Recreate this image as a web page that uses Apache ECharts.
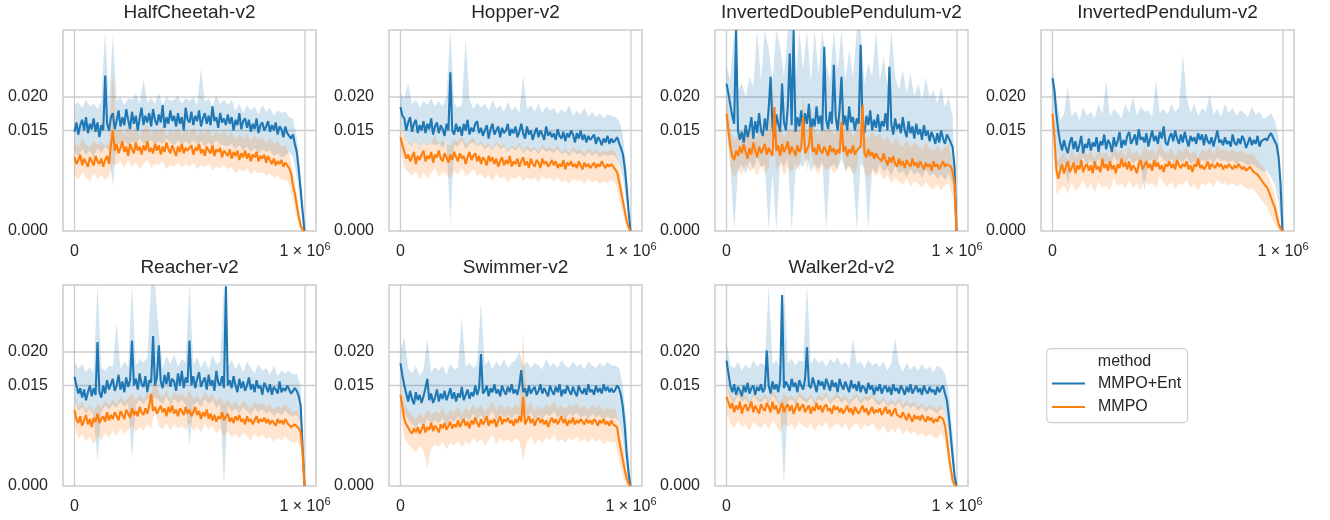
<!DOCTYPE html>
<html><head><meta charset="utf-8">
<script src="https://cdn.jsdelivr.net/npm/echarts@6/dist/echarts.min.js"></script>
<style>html,body{margin:0;padding:0;background:#fff}#c{width:1330px;height:520px}</style>
</head><body><div id="c"></div>
<script>
// ---------- data (values in units of 1e-4) ----------
const UNIT = 1e-4;
// timesteps of the mean lines
const LINE_STEPS = [0,8315,16630,24945,33260,41575,49890,58205,66520,74835,
83150,91465,99780,108095,116410,124725,133040,141355,149670,157985,
166300,174615,182930,191245,199560,207875,216190,224505,232820,241135,
249450,257765,266080,274395,282710,291025,299340,307655,315970,324285,
332600,340915,349230,357545,365860,374175,382490,390805,399120,407435,
415750,424065,432380,440695,449010,457325,465640,473955,482270,490585,
498900,507215,515530,523845,532160,540475,548790,557105,565420,573735,
582050,590365,598680,606995,615310,623625,631940,640255,648570,656885,
665200,673515,681830,690145,698460,706775,715090,723405,731720,740035,
748350,756665,764980,773295,781610,789925,798240,806555,814870,823185,
831500,839815,848130,856445,864760,873075,881390,889705,898020,906335,
914650,922965,931280,939595,947910,956225,964540,972855,981170,989485,
997800];
// timesteps of the confidence bands
const BAND_STEPS = [0,16630,33260,49890,66520,83150,99780,116410,133040,149670,
166300,182930,199560,216190,232820,249450,266080,282710,299340,315970,
332600,349230,365860,382490,399120,415750,432380,449010,465640,482270,
498900,515530,532160,548790,565420,582050,598680,615310,631940,648570,
665200,681830,698460,715090,731720,748350,764980,781610,798240,814870,
831500,848130,864760,881390,898020,914650,931280,947910,964540,981170,
997800];
const METHODS = ['MMPO+Ent', 'MMPO'];
const ENV_NAMES = ['HalfCheetah-v2','Hopper-v2','InvertedDoublePendulum-v2','InvertedPendulum-v2','Reacher-v2','Swimmer-v2','Walker2d-v2'];
const Y_TICKS = [0, 0.015, 0.02];
const X_TICKS = [0, 1000000];

// HalfCheetah
const HC_ENT = [148,162,144,158,166,150,170,146,160,152,168,148,162,140,158,150,232,160,150,170,176,152,164,180,156,170,158,182,166,152,178,160,172,150,168,184,158,172,162,176,156,182,166,158,174,162,188,154,170,160,180,164,172,156,176,160,170,150,184,166,162,178,158,172,164,180,156,168,176,160,172,158,186,164,170,154,176,162,168,158,174,160,170,150,166,158,176,152,164,168,154,166,148,160,152,168,146,158,162,150,156,164,148,158,150,162,144,156,152,140,156,146,148,138,144,130,118,92,62,30,0];
const HC_BASE = [110,100,106,114,98,108,102,96,110,104,98,112,104,100,108,96,106,112,100,128,150,120,130,116,124,134,118,126,112,130,122,116,132,120,126,114,128,120,134,118,124,116,130,120,128,114,126,118,132,122,116,128,120,112,126,118,130,116,124,120,118,128,114,124,120,130,116,122,112,126,120,116,128,112,122,118,124,110,120,116,112,122,108,118,112,120,106,116,110,120,108,116,104,114,110,118,104,112,108,114,102,112,106,100,108,98,104,100,106,96,102,98,94,86,68,56,38,22,8,2,0];
const HC_ENT_HI = [188,192,184,196,186,190,182,194,300,190,293,194,200,188,198,196,204,190,226,192,198,190,206,188,200,194,196,202,190,198,194,200,188,243,192,198,186,202,190,196,188,196,180,190,176,188,180,186,174,188,178,184,172,180,176,178,170,168,140,80,0];
const HC_ENT_LO = [118,112,122,114,120,110,124,116,126,120,66,132,128,136,126,134,128,138,130,132,136,128,134,130,138,132,128,136,130,134,128,136,130,134,126,132,128,136,130,128,126,130,122,128,120,126,118,124,116,122,118,120,112,116,110,112,118,110,80,40,0];
const HC_BASE_HI = [132,126,138,130,124,136,128,134,126,132,240,150,152,144,158,146,154,142,152,158,144,152,148,156,142,150,146,154,144,152,146,154,142,150,146,152,140,148,144,150,142,148,136,144,138,146,134,142,136,140,132,138,130,134,126,128,115,90,55,15,0];
const HC_BASE_LO = [84,76,88,80,74,86,78,84,76,82,100,98,104,94,106,96,102,92,100,106,94,100,98,104,92,98,96,102,94,100,96,102,92,98,96,100,90,96,94,98,92,96,86,92,88,94,84,90,86,88,82,86,80,82,76,76,70,45,20,0,0];

// Hopper
const HOP_ENT = [185,172,168,150,162,170,148,160,166,146,158,150,164,146,160,152,168,144,156,162,146,158,152,142,160,150,237,150,144,160,148,156,142,160,150,166,144,154,148,160,164,146,154,142,150,158,138,152,160,144,150,156,140,154,146,150,160,142,152,146,156,140,148,160,146,138,156,144,150,136,146,154,140,150,144,136,156,142,148,140,146,136,152,142,138,148,134,146,140,150,144,132,146,138,150,136,144,132,142,136,134,144,130,140,136,128,138,132,142,130,138,132,135,140,132,124,115,95,65,30,0];
const HOP_BASE = [140,128,118,108,114,104,110,118,100,112,106,114,120,104,112,108,118,102,114,110,120,108,104,116,110,102,114,106,118,110,104,116,108,112,100,110,118,106,112,116,104,112,100,110,106,98,112,104,110,100,108,96,104,110,98,106,100,112,96,104,100,108,96,104,110,98,104,94,108,100,96,106,102,94,108,100,104,96,100,106,98,104,94,100,96,106,92,102,98,104,96,100,94,104,98,92,102,96,100,94,98,102,94,100,96,104,98,94,100,96,100,96,95,88,75,60,45,30,15,6,0];
const HOP_ENT_HI = [205,198,220,190,196,184,194,188,198,186,194,186,200,300,190,184,188,287,196,182,192,184,190,180,196,182,188,178,192,180,186,176,232,182,188,178,190,176,186,180,184,174,182,176,188,172,180,174,184,170,178,170,176,168,174,172,170,165,145,90,0];
const HOP_ENT_LO = [160,140,132,126,136,122,134,126,132,128,130,124,134,10,128,126,136,122,130,132,126,130,122,128,120,130,122,126,118,124,120,126,116,122,118,122,114,124,118,120,116,122,114,118,112,120,114,116,110,118,112,116,110,114,112,114,112,100,80,40,0];
const HOP_BASE_HI = [160,140,134,128,138,122,136,126,134,142,128,136,130,126,138,132,142,130,134,140,128,134,126,132,122,134,126,130,120,128,124,132,120,128,122,126,118,130,122,126,120,128,118,124,116,126,120,122,116,124,118,122,116,120,118,122,118,95,62,25,0];
const HOP_BASE_LO = [118,94,88,82,90,76,88,78,86,94,80,88,84,78,90,84,94,82,86,92,82,86,78,84,74,86,78,82,72,80,78,84,74,80,76,80,72,82,76,80,74,80,72,76,70,78,74,76,70,78,72,76,70,74,72,76,72,50,25,5,0];

// InvertedDoublePendulum
const IDP_ENT = [220,205,188,172,160,300,150,136,148,132,158,140,152,170,138,164,146,176,150,142,168,150,182,230,156,140,174,160,148,220,162,150,186,265,158,300,148,170,156,180,150,176,160,190,148,168,156,186,160,172,150,275,166,152,178,160,248,170,150,182,230,158,172,150,186,162,170,150,168,160,278,156,146,172,158,180,150,166,154,174,148,164,156,176,150,245,160,144,168,152,160,146,170,150,140,164,146,156,138,160,144,152,136,158,142,150,134,148,140,130,146,132,150,138,130,144,142,132,125,95,0];
const IDP_BASE = [175,150,126,112,106,120,112,126,116,130,118,108,124,114,132,120,110,126,116,122,130,114,124,118,112,185,120,128,112,130,118,124,134,114,126,120,112,128,118,124,170,116,122,128,155,118,124,114,130,120,116,126,120,112,128,118,124,114,122,116,163,118,126,112,122,116,128,114,120,118,126,188,116,110,122,112,118,108,116,110,112,104,116,106,98,110,102,112,100,96,108,98,104,94,106,100,96,108,98,102,94,104,98,92,102,96,100,90,104,96,100,92,98,104,96,100,102,96,88,70,0];
const IDP_ENT_HI = [245,225,300,210,220,200,230,215,300,225,300,270,225,300,275,230,300,300,220,300,240,300,220,300,235,300,250,225,300,240,300,225,270,230,300,300,220,250,230,300,225,260,215,300,230,210,240,205,235,200,220,195,230,200,210,190,215,185,200,170,0];
const IDP_ENT_LO = [170,100,0,90,100,85,105,92,110,95,100,0,88,0,105,95,110,0,90,100,95,110,88,100,92,105,0,96,100,92,108,90,98,88,0,102,92,0,94,86,100,88,94,82,98,86,90,80,92,84,88,80,92,82,86,78,84,76,86,70,0];
const IDP_BASE_HI = [200,150,135,145,140,160,145,150,138,156,144,152,215,148,158,140,154,146,160,150,200,146,185,152,142,158,148,154,144,150,195,146,154,142,150,220,144,138,148,140,146,134,142,128,138,132,126,136,124,132,128,122,132,124,120,128,118,126,130,100,0];
const IDP_BASE_LO = [150,96,80,90,84,100,88,94,82,98,86,94,150,90,100,82,96,88,102,90,140,88,125,94,84,100,90,96,86,92,133,88,96,84,92,155,86,80,90,82,88,76,84,70,80,74,68,78,66,74,70,64,74,66,62,70,60,68,72,50,0];

// InvertedPendulum
const IP_ENT = [228,210,175,150,132,120,136,124,116,132,140,122,134,118,128,142,116,130,124,138,120,132,126,140,118,134,128,144,122,136,130,118,140,126,134,148,124,136,128,142,148,130,136,144,128,152,136,140,132,146,126,138,150,134,142,130,148,138,156,132,128,140,146,134,150,138,130,144,132,148,136,126,142,134,140,130,146,136,144,128,144,134,130,140,126,138,150,132,136,128,140,130,134,126,144,132,128,138,130,142,136,124,132,140,128,136,130,142,126,134,132,138,135,142,146,140,138,128,110,70,0];
const IP_BASE = [175,140,92,78,90,100,86,96,104,88,94,102,86,98,92,106,88,96,100,90,98,86,104,92,96,88,108,94,100,90,104,92,98,86,100,94,108,96,102,92,104,90,98,94,86,100,106,92,98,104,94,100,90,106,96,102,92,98,88,100,96,104,94,100,92,106,98,94,100,96,104,92,98,88,100,96,108,94,98,92,96,104,92,100,98,94,102,96,100,92,98,94,100,96,92,98,94,100,96,92,96,90,92,96,94,88,88,84,80,76,72,68,65,58,50,42,35,22,10,4,0];
const IP_ENT_HI = [245,200,165,175,215,170,180,165,185,172,178,168,190,174,225,170,182,176,168,190,176,200,172,186,178,180,170,225,176,182,174,190,178,184,265,200,176,190,172,184,178,205,174,182,170,190,176,184,172,180,176,170,186,174,178,168,170,176,165,140,0];
const IP_ENT_LO = [200,100,90,104,70,106,96,102,110,98,106,94,108,100,104,96,112,102,108,98,110,100,106,96,60,104,108,100,114,106,102,108,98,106,102,110,100,104,96,106,104,108,100,110,104,106,102,106,100,104,102,98,100,96,92,88,90,80,70,40,0];
const IP_BASE_HI = [195,102,110,118,106,122,110,116,126,112,120,108,124,114,118,110,130,116,122,112,126,114,120,110,128,118,122,114,132,120,116,124,112,122,118,126,114,120,110,122,118,124,116,126,120,122,118,122,116,120,118,114,116,110,102,94,86,72,55,25,0];
const IP_BASE_LO = [155,55,62,68,56,72,60,66,76,62,70,58,74,64,68,60,80,66,72,62,76,64,70,60,78,68,72,64,82,70,66,74,62,72,68,76,64,70,60,72,68,74,66,76,70,72,68,72,66,70,66,62,64,58,50,42,36,22,10,0,0];

// Reacher
const RE_ENT = [163,150,138,146,132,144,128,140,150,134,146,136,215,140,132,150,138,158,144,152,160,142,150,166,144,156,140,162,148,158,217,150,160,144,168,152,148,164,140,158,154,224,150,162,210,156,146,166,152,170,148,160,156,142,168,150,172,146,162,154,217,150,164,146,160,170,148,156,162,144,166,150,158,142,172,154,150,164,146,298,150,158,146,164,150,140,160,146,156,142,150,162,144,152,140,158,146,150,136,154,148,140,152,136,148,144,138,156,140,146,142,150,148,138,136,146,142,134,120,60,0];
const RE_BASE = [113,100,94,104,90,98,106,92,100,88,102,96,108,94,100,104,96,110,98,106,100,110,104,98,112,106,100,114,108,102,116,106,112,104,118,110,106,116,108,120,138,112,118,108,114,120,110,116,104,118,110,120,108,114,104,116,112,106,118,108,114,104,110,118,106,112,100,110,104,114,100,108,98,106,96,104,100,110,98,104,108,96,102,94,104,98,106,96,100,92,104,96,100,92,98,104,94,100,96,102,94,100,92,98,96,90,100,94,98,92,100,94,94,88,88,92,92,86,80,50,0];
const RE_ENT_HI = [185,175,182,170,178,168,300,176,172,180,178,244,174,186,178,300,180,190,184,192,300,300,230,176,194,182,196,178,190,184,300,180,192,176,188,174,196,182,186,300,178,188,174,184,170,186,176,168,182,172,176,166,180,164,172,168,172,166,168,150,0];
const RE_ENT_LO = [130,112,118,108,116,104,37,110,120,114,122,116,126,118,124,40,120,128,122,130,126,132,128,122,134,120,130,124,128,122,60,120,126,118,130,122,128,116,124,0,120,110,116,108,118,112,106,116,110,114,108,112,104,110,106,112,106,104,106,95,0];
const RE_BASE_HI = [135,118,126,114,122,110,124,116,128,120,130,122,134,126,132,138,128,136,130,140,134,165,138,132,142,130,140,134,138,132,142,130,136,128,140,132,138,126,134,122,130,120,126,118,128,122,116,126,120,124,118,122,114,120,116,122,116,110,114,100,0];
const RE_BASE_LO = [90,70,78,66,74,62,76,68,80,72,82,74,86,78,84,90,80,88,82,92,86,112,90,84,94,82,92,86,90,84,94,82,88,80,92,84,90,78,86,74,82,72,78,70,80,74,68,78,72,76,70,74,66,72,68,74,68,64,66,58,0];

// Swimmer
const SW_ENT = [183,165,150,138,126,142,130,122,140,128,136,124,134,146,160,128,138,124,132,144,126,138,130,142,128,136,146,130,140,126,138,132,148,128,136,144,130,140,134,150,136,146,197,138,142,150,134,146,140,152,138,144,134,150,142,136,148,140,152,138,144,136,150,173,140,146,134,150,138,144,148,136,142,152,138,146,140,134,150,142,136,148,140,152,134,144,138,150,142,136,148,140,134,150,142,138,146,136,152,140,144,136,150,140,146,138,152,142,148,140,146,140,143,150,146,136,118,90,49,20,0];
const SW_BASE = [136,118,100,92,90,82,78,86,80,88,78,84,92,80,88,84,94,82,90,86,80,92,86,94,84,90,96,86,92,88,98,88,94,100,90,96,86,98,92,102,94,88,100,92,96,104,90,98,94,100,88,98,104,92,100,96,102,94,98,90,100,94,104,96,133,92,98,104,94,100,90,98,102,94,100,92,98,88,96,102,94,100,92,98,104,94,100,90,98,94,102,92,98,94,100,96,92,100,94,98,92,100,96,90,98,94,100,92,96,90,98,92,94,88,69,54,39,24,12,4,0];
const SW_ENT_HI = [205,222,176,168,180,164,174,220,170,178,172,180,166,182,174,176,252,178,184,176,182,274,180,188,174,186,178,190,176,184,188,200,178,186,176,184,180,174,190,178,184,176,188,180,176,186,178,182,174,186,180,176,184,178,186,180,180,176,150,90,0];
const SW_ENT_LO = [160,110,98,92,86,96,88,100,92,98,94,102,90,100,96,104,94,102,98,108,100,106,96,104,112,98,108,102,106,100,108,104,110,102,110,98,106,100,108,104,112,102,106,100,108,104,110,102,106,100,108,102,106,98,104,100,102,96,70,30,0];
const SW_BASE_HI = [160,122,112,106,100,110,102,114,106,112,108,116,104,114,110,118,108,116,112,122,114,120,110,118,126,112,122,116,120,114,122,118,230,116,124,112,120,114,122,118,126,116,120,114,122,118,124,116,120,114,122,116,120,112,118,114,116,92,60,25,0];
const SW_BASE_LO = [110,72,62,56,50,60,52,25,56,62,58,66,54,64,60,68,58,66,62,72,64,70,60,68,76,62,72,66,70,64,72,68,37,66,74,62,70,64,72,68,76,66,70,64,72,68,74,66,70,64,72,66,70,62,68,64,66,40,15,0,0];

// Walker2d
const WK_ENT = [187,168,150,140,152,136,148,142,134,150,140,154,138,146,150,136,148,142,152,140,146,202,150,138,156,144,152,140,158,285,146,156,150,142,160,148,154,140,158,150,144,160,207,150,146,162,152,140,158,150,156,144,160,152,142,158,148,154,140,160,150,144,156,148,140,158,146,152,142,156,140,150,146,138,154,144,150,136,148,142,152,138,146,150,140,148,136,152,142,146,138,150,144,136,148,140,152,138,144,150,140,146,136,150,142,138,148,140,144,136,148,140,146,150,138,128,104,75,44,15,0];
const WK_BASE = [133,125,116,124,110,120,114,126,108,118,122,112,118,126,110,120,114,108,122,116,112,124,118,110,126,114,120,108,116,124,110,118,122,112,120,108,116,124,112,118,122,110,116,120,108,118,112,124,114,120,110,118,122,112,116,108,120,114,118,110,116,108,114,120,110,116,106,118,112,108,114,120,110,116,106,112,118,108,114,110,116,106,112,118,108,114,104,110,116,106,108,102,110,104,98,108,102,96,106,100,104,98,106,100,96,104,98,102,94,100,96,104,106,100,90,70,46,26,8,2,0];
const WK_ENT_HI = [215,180,176,186,172,182,174,188,178,184,180,300,182,188,176,300,184,190,180,188,186,300,182,192,184,188,178,190,184,192,180,186,176,220,182,186,176,188,180,184,178,186,172,184,220,182,170,184,174,180,172,182,174,178,170,180,176,168,140,80,0];
const WK_ENT_LO = [150,130,124,136,126,130,120,134,128,124,132,122,136,128,118,0,126,130,122,134,128,124,132,120,130,126,134,122,128,132,124,130,120,128,132,122,130,126,132,124,120,128,116,124,118,126,114,122,116,120,112,118,110,116,112,108,116,110,70,30,0];
const WK_BASE_HI = [150,138,130,142,132,136,126,140,134,130,138,128,142,134,124,138,132,136,128,140,134,130,138,126,136,132,140,128,134,138,130,136,126,134,138,128,136,132,138,130,126,134,122,130,124,132,120,128,122,126,118,124,116,122,118,114,122,108,64,20,0];
const WK_BASE_LO = [110,94,86,98,88,92,82,96,90,86,94,84,98,90,80,94,88,92,84,96,90,86,94,82,92,88,96,84,90,94,86,92,82,90,94,84,92,88,94,86,82,90,78,86,80,88,76,84,78,82,74,80,72,78,74,70,80,66,30,0,0];

const PANELS = [
  {ent: [HC_ENT, HC_ENT_LO, HC_ENT_HI], base: [HC_BASE, HC_BASE_LO, HC_BASE_HI]},
  {ent: [HOP_ENT, HOP_ENT_LO, HOP_ENT_HI], base: [HOP_BASE, HOP_BASE_LO, HOP_BASE_HI]},
  {ent: [IDP_ENT, IDP_ENT_LO, IDP_ENT_HI], base: [IDP_BASE, IDP_BASE_LO, IDP_BASE_HI]},
  {ent: [IP_ENT, IP_ENT_LO, IP_ENT_HI], base: [IP_BASE, IP_BASE_LO, IP_BASE_HI]},
  {ent: [RE_ENT, RE_ENT_LO, RE_ENT_HI], base: [RE_BASE, RE_BASE_LO, RE_BASE_HI]},
  {ent: [SW_ENT, SW_ENT_LO, SW_ENT_HI], base: [SW_BASE, SW_BASE_LO, SW_BASE_HI]},
  {ent: [WK_ENT, WK_ENT_LO, WK_ENT_HI], base: [WK_BASE, WK_BASE_LO, WK_BASE_HI]}
];

// ---------- layout / style ----------
const COLORS = ['#1f77b4', '#ff7f0e'];
const BAND_FILLS = ['rgba(31,119,180,0.2)', 'rgba(255,127,14,0.2)'];
const FONT = "'Liberation Sans', Arial, sans-serif";
const TXT = '#262626';
const GRIDC = '#cccccc';
const LEFTS = [63, 389, 715, 1041];
const TOPS = [30, 285];
const W = 253, H = 201;
const XMIN = -49900, XMAX = 1047800, YMIN = 0, YMAX = 0.03;

const pts = arr => LINE_STEPS.map((x, i) => [x, arr[i] * UNIT]);

function bandSeries(k, lo, hi, fill) {
  const data = BAND_STEPS.map((x, i) => [x, lo[i] * UNIT, hi[i] * UNIT]);
  return {
    type: 'custom', xAxisIndex: k, yAxisIndex: k, silent: true, z: 2, clip: true,
    data: data, encode: {x: 0, y: [1, 2]},
    renderItem: (params, api) => {
      if (params.dataIndex !== 0) return null;
      const upper = data.map(d => api.coord([d[0], d[2]]));
      const lower = data.map(d => api.coord([d[0], d[1]])).reverse();
      return {type: 'polygon', shape: {points: upper.concat(lower)}, style: {fill: fill}};
    }
  };
}

const grids = [], xAxes = [], yAxes = [], titles = [], series = [];
PANELS.forEach((p, k) => {
  const row = Math.floor(k / 4), col = k % 4;
  const left = LEFTS[col], top = TOPS[row];
  grids.push({left, top, width: W, height: H, show: true, borderColor: GRIDC, borderWidth: 1.5, backgroundColor: '#fff'});
  xAxes.push({
    type: 'value', gridIndex: k, min: XMIN, max: XMAX,
    axisLine: {show: false}, axisTick: {show: false}, splitLine: {show: false},
    axisLabel: {
      customValues: X_TICKS, margin: 10, color: TXT, fontFamily: FONT, fontSize: 16, lineHeight: 22,
      formatter: v => v === 0 ? '{n|0}' : '{n|1 × 10}{s|6}',
      rich: {n: {fontSize: 16, lineHeight: 22, color: TXT, fontFamily: FONT},
             s: {fontSize: 11, lineHeight: 22, verticalAlign: 'top', color: TXT, fontFamily: FONT}}
    }
  });
  yAxes.push({
    type: 'value', gridIndex: k, min: YMIN, max: YMAX,
    axisLine: {show: false}, axisTick: {show: false}, splitLine: {show: false},
    axisLabel: {customValues: Y_TICKS, margin: 15, color: TXT, fontFamily: FONT, fontSize: 16,
      formatter: v => v.toFixed(3)}
  });
  titles.push({text: ENV_NAMES[k], left: left + W / 2, top: top - 28, textAlign: 'center', padding: 0,
    textStyle: {fontFamily: FONT, fontSize: 19, lineHeight: 22, fontWeight: 'normal', color: TXT}});

  // grid lines (drawn through the axes)
  const gl = [
    [[XMIN, 0.015], [XMAX, 0.015]], [[XMIN, 0.02], [XMAX, 0.02]],
    [[0, YMIN], [0, YMAX]], [[1000000, YMIN], [1000000, YMAX]]
  ];
  gl.forEach((d, j) => series.push({
    type: 'line', name: 'grid' + k + '_' + j, xAxisIndex: k, yAxisIndex: k, data: d,
    symbol: 'none', silent: true, z: 1, lineStyle: {color: GRIDC, width: 1.3}
  }));

  // bands
  [p.ent, p.base].forEach((m, mi) => series.push(bandSeries(k, m[1], m[2], BAND_FILLS[mi])));
  // mean lines
  [p.ent, p.base].forEach((m, mi) => {
    series.push({type: 'line', name: METHODS[mi], xAxisIndex: k, yAxisIndex: k,
      data: pts(m[0]), symbol: 'none', z: 3, color: COLORS[mi],
      lineStyle: {color: COLORS[mi], width: 2.1}});
  });
});

// legend (drawn as graphic elements)
const LEG_X = 1052, LEG_Y = [383.5, 407];
const legendGraphics = [
  {type: 'rect', left: 1046, top: 348, z: 10,
    shape: {width: 141, height: 74, r: 4},
    style: {fill: 'rgba(255,255,255,0.8)', stroke: '#d0d0d0', lineWidth: 1.2}},
  {type: 'text', x: 1124.5, y: 362, z: 11,
    style: {text: 'method', fontFamily: FONT, fontSize: 16, fill: TXT, align: 'center', verticalAlign: 'middle'}}
];
METHODS.forEach((m, i) => {
  legendGraphics.push({type: 'line', z: 11, shape: {x1: LEG_X, y1: LEG_Y[i], x2: LEG_X + 33, y2: LEG_Y[i]},
    style: {stroke: COLORS[i], lineWidth: 2}});
  legendGraphics.push({type: 'text', x: 1098, y: LEG_Y[i], z: 11,
    style: {text: m, fontFamily: FONT, fontSize: 16, fill: TXT, align: 'left', verticalAlign: 'middle'}});
});

const chart = echarts.init(document.getElementById('c'), null, {renderer: 'canvas'});
chart.setOption({
  animation: false,
  backgroundColor: '#ffffff',
  textStyle: {fontFamily: FONT},
  title: titles,
  grid: grids,
  xAxis: xAxes,
  yAxis: yAxes,
  graphic: legendGraphics,
  series: series
});
</script>
</body></html>
